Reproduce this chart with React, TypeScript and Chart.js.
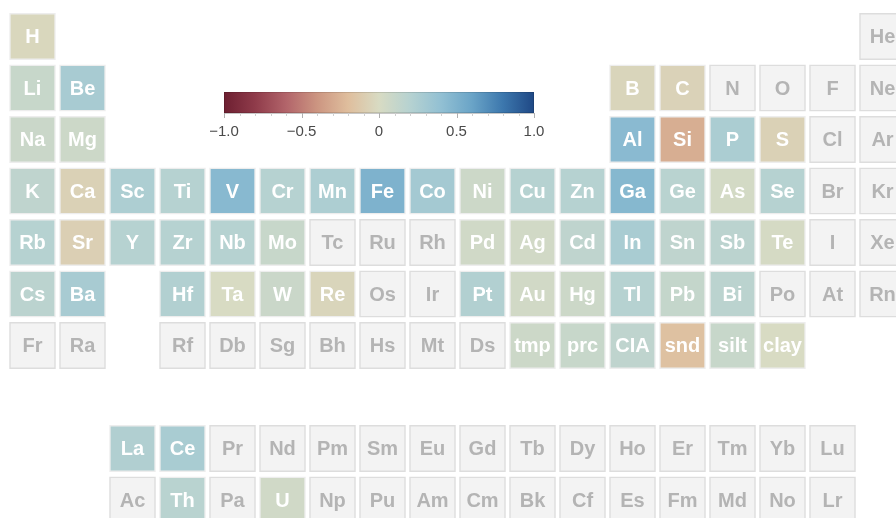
import React, { useEffect, useRef } from "react";
import { Chart, registerables } from "chart.js";

Chart.register(...registerables);

// ---- data ----
const symbols = [
  "H", "He",
  "Li", "Be", "B", "C", "N", "O", "F", "Ne",
  "Na", "Mg", "Al", "Si", "P", "S", "Cl", "Ar",
  "K", "Ca", "Sc", "Ti", "V", "Cr", "Mn", "Fe", "Co", "Ni", "Cu", "Zn", "Ga", "Ge", "As", "Se", "Br", "Kr",
  "Rb", "Sr", "Y", "Zr", "Nb", "Mo", "Tc", "Ru", "Rh", "Pd", "Ag", "Cd", "In", "Sn", "Sb", "Te", "I", "Xe",
  "Cs", "Ba", "Hf", "Ta", "W", "Re", "Os", "Ir", "Pt", "Au", "Hg", "Tl", "Pb", "Bi", "Po", "At", "Rn",
  "Fr", "Ra", "Rf", "Db", "Sg", "Bh", "Hs", "Mt", "Ds", "tmp", "prc", "CIA", "snd", "silt", "clay",
  "La", "Ce", "Pr", "Nd", "Pm", "Sm", "Eu", "Gd", "Tb", "Dy", "Ho", "Er", "Tm", "Yb", "Lu",
  "Ac", "Th", "Pa", "U", "Np", "Pu", "Am", "Cm", "Bk", "Cf", "Es", "Fm", "Md", "No", "Lr",
];
const columns = [
  0, 17,
  0, 1, 12, 13, 14, 15, 16, 17,
  0, 1, 12, 13, 14, 15, 16, 17,
  0, 1, 2, 3, 4, 5, 6, 7, 8, 9, 10, 11, 12, 13, 14, 15, 16, 17,
  0, 1, 2, 3, 4, 5, 6, 7, 8, 9, 10, 11, 12, 13, 14, 15, 16, 17,
  0, 1, 3, 4, 5, 6, 7, 8, 9, 10, 11, 12, 13, 14, 15, 16, 17,
  0, 1, 3, 4, 5, 6, 7, 8, 9, 10, 11, 12, 13, 14, 15,
  2, 3, 4, 5, 6, 7, 8, 9, 10, 11, 12, 13, 14, 15, 16,
  2, 3, 4, 5, 6, 7, 8, 9, 10, 11, 12, 13, 14, 15, 16,
];
const rowCounts = [2, 8, 8, 18, 18, 17, 15, 15, 15];
const rowIndex = [0, 1, 2, 3, 4, 5, 6, 8, 9];
const N = null;
const values: (number | null)[] = [
  -0.03, N,
  0.1, 0.28, -0.04, -0.06, N, N, N, N,
  0.08, 0.07, 0.44, -0.28, 0.26, -0.07, N, N,
  0.15, -0.07, 0.25, 0.2, 0.45, 0.2, 0.25, 0.5, 0.3, 0.07, 0.2, 0.2, 0.46, 0.18, 0.03, 0.2, N, N,
  0.2, -0.08, 0.2, 0.2, 0.2, 0.1, N, N, N, 0.05, 0.04, 0.15, 0.27, 0.15, 0.17, 0.02, N, N,
  0.17, 0.28, 0.22, 0.0, 0.08, -0.04, N, N, 0.22, 0.04, 0.07, 0.2, 0.12, 0.17, N, N, N,
  N, N, N, N, N, N, N, N, N, 0.07, 0.1, 0.15, -0.18, 0.1, 0.0,
  0.23, 0.27, N, N, N, N, N, N, N, N, N, N, N, N, N,
  N, 0.18, N, 0.05, N, N, N, N, N, N, N, N, N, N, N,
];
const colorbarTicks = [-1, -0.5, 0, 0.5, 1];
const colorbarTickLabels = ["\u22121.0", "\u22120.5", "0", "0.5", "1.0"];

// colormap stops
const cmapPos = [-1, -0.8, -0.6, -0.4, -0.2, 0, 0.2, 0.4, 0.6, 0.8, 1];
const cmapCol = [
  "#6d1f31", "#8f3b4a", "#b2646a", "#cc9581", "#dfbe9d", "#d8dbc3",
  "#b6d2d1", "#92c0d3", "#6aa4c7", "#3c77ad", "#1f4885",
];

function hexToRgb(h: string) {
  const n = parseInt(h.slice(1), 16);
  return [(n >> 16) & 255, (n >> 8) & 255, n & 255];
}
function cmap(v: number) {
  const t = Math.max(-1, Math.min(1, v));
  for (let i = 0; i < cmapPos.length - 1; i++) {
    if (t <= cmapPos[i + 1]) {
      const f = (t - cmapPos[i]) / (cmapPos[i + 1] - cmapPos[i]);
      const a = hexToRgb(cmapCol[i]);
      const b = hexToRgb(cmapCol[i + 1]);
      const c = a.map((x, k) => Math.round(x + (b[k] - x) * f));
      return `rgb(${c[0]},${c[1]},${c[2]})`;
    }
  }
  return cmapCol[cmapCol.length - 1];
}

const rows: number[] = [];
rowCounts.forEach((c, i) => {
  for (let k = 0; k < c; k++) rows.push(rowIndex[i]);
});

export default function App() {
  const ref = useRef<HTMLCanvasElement | null>(null);
  useEffect(() => {
    if (!ref.current) return;
    const data = symbols.map((s, i) => ({ x: columns[i], y: [rows[i] - 0.45, rows[i] + 0.45] }));
    const fills = values.map((v) => (v === null ? "#f3f3f3" : cmap(v)));
    const borders = values.map((v) => (v === null ? "#dddddd" : "rgba(0,0,0,0.07)"));

    const labelPlugin = {
      id: "cellLabels",
      afterDatasetsDraw(chart: any) {
        const ctx = chart.ctx;
        const xs = chart.scales.x;
        const ys = chart.scales.y;
        ctx.save();
        ctx.textAlign = "center";
        ctx.textBaseline = "middle";
        ctx.font = "bold 20px 'Liberation Sans', Arial, sans-serif";
        symbols.forEach((s, i) => {
          const px = xs.getPixelForValue(columns[i]);
          const py = ys.getPixelForValue(rows[i]);
          ctx.fillStyle = values[i] === null ? "#b4b4b4" : "#ffffff";
          ctx.fillText(s, px, py + 1);
        });
        ctx.restore();
      },
    };

    const colorbarPlugin = {
      id: "colorbar",
      afterDraw(chart: any) {
        const ctx = chart.ctx;
        const x0 = 224, x1 = 534, y0 = 92, y1 = 113;
        const g = ctx.createLinearGradient(x0, 0, x1, 0);
        cmapPos.forEach((p, i) => g.addColorStop((p + 1) / 2, cmapCol[i]));
        ctx.save();
        ctx.fillStyle = g;
        ctx.fillRect(x0, y0, x1 - x0, y1 - y0);
        ctx.strokeStyle = "rgba(0,0,0,0.12)";
        ctx.lineWidth = 1;
        ctx.strokeRect(x0 + 0.5, y0 + 0.5, x1 - x0 - 1, y1 - y0 - 1);
        ctx.strokeStyle = "#c8c8c8";
        ctx.beginPath();
        ctx.moveTo(x0, y1 + 0.5);
        ctx.lineTo(x1, y1 + 0.5);
        ctx.stroke();
        for (let k = 0; k <= 20; k++) {
          const v = -1 + k * 0.1;
          const px = Math.round(x0 + ((v + 1) / 2) * (x1 - x0)) + 0.5;
          const major = k % 5 === 0;
          ctx.strokeStyle = major ? "#b0b0b0" : "#d0d0d0";
          ctx.beginPath();
          ctx.moveTo(px, y1);
          ctx.lineTo(px, y1 + (major ? 5 : 3));
          ctx.stroke();
        }
        ctx.fillStyle = "#4a4a4a";
        ctx.font = "15px 'Liberation Sans', Arial, sans-serif";
        ctx.textAlign = "center";
        ctx.textBaseline = "middle";
        colorbarTicks.forEach((t, i) => {
          const px = x0 + ((t + 1) / 2) * (x1 - x0);
          ctx.fillText(colorbarTickLabels[i], px, 132);
        });
        ctx.restore();
      },
    };

    const chart = new Chart(ref.current, {
      type: "bar",
      data: {
        datasets: [
          {
            data: data as any,
            backgroundColor: fills,
            borderColor: borders,
            borderWidth: 1.5,
            borderSkipped: false,
            barThickness: 46,
          } as any,
        ],
      },
      options: {
        animation: false,
        responsive: false,
        maintainAspectRatio: false,
        layout: { padding: 0 },
        plugins: { legend: { display: false }, tooltip: { enabled: false } },
        scales: {
          x: { type: "linear", offset: false, min: -0.65, max: 17.27, display: false, grid: { display: false } },
          y: { type: "linear", min: -0.7087, max: 9.3495, reverse: true, display: false, grid: { display: false } },
        },
      },
      plugins: [labelPlugin, colorbarPlugin],
    });
    return () => chart.destroy();
  }, []);

  return (
    <div style={{ position: "fixed", left: 0, top: 0, width: 896, height: 518, background: "#fff", overflow: "hidden" }}>
      <canvas ref={ref} width={896} height={518} style={{ width: 896, height: 518, display: "block" }} />
    </div>
  );
}
